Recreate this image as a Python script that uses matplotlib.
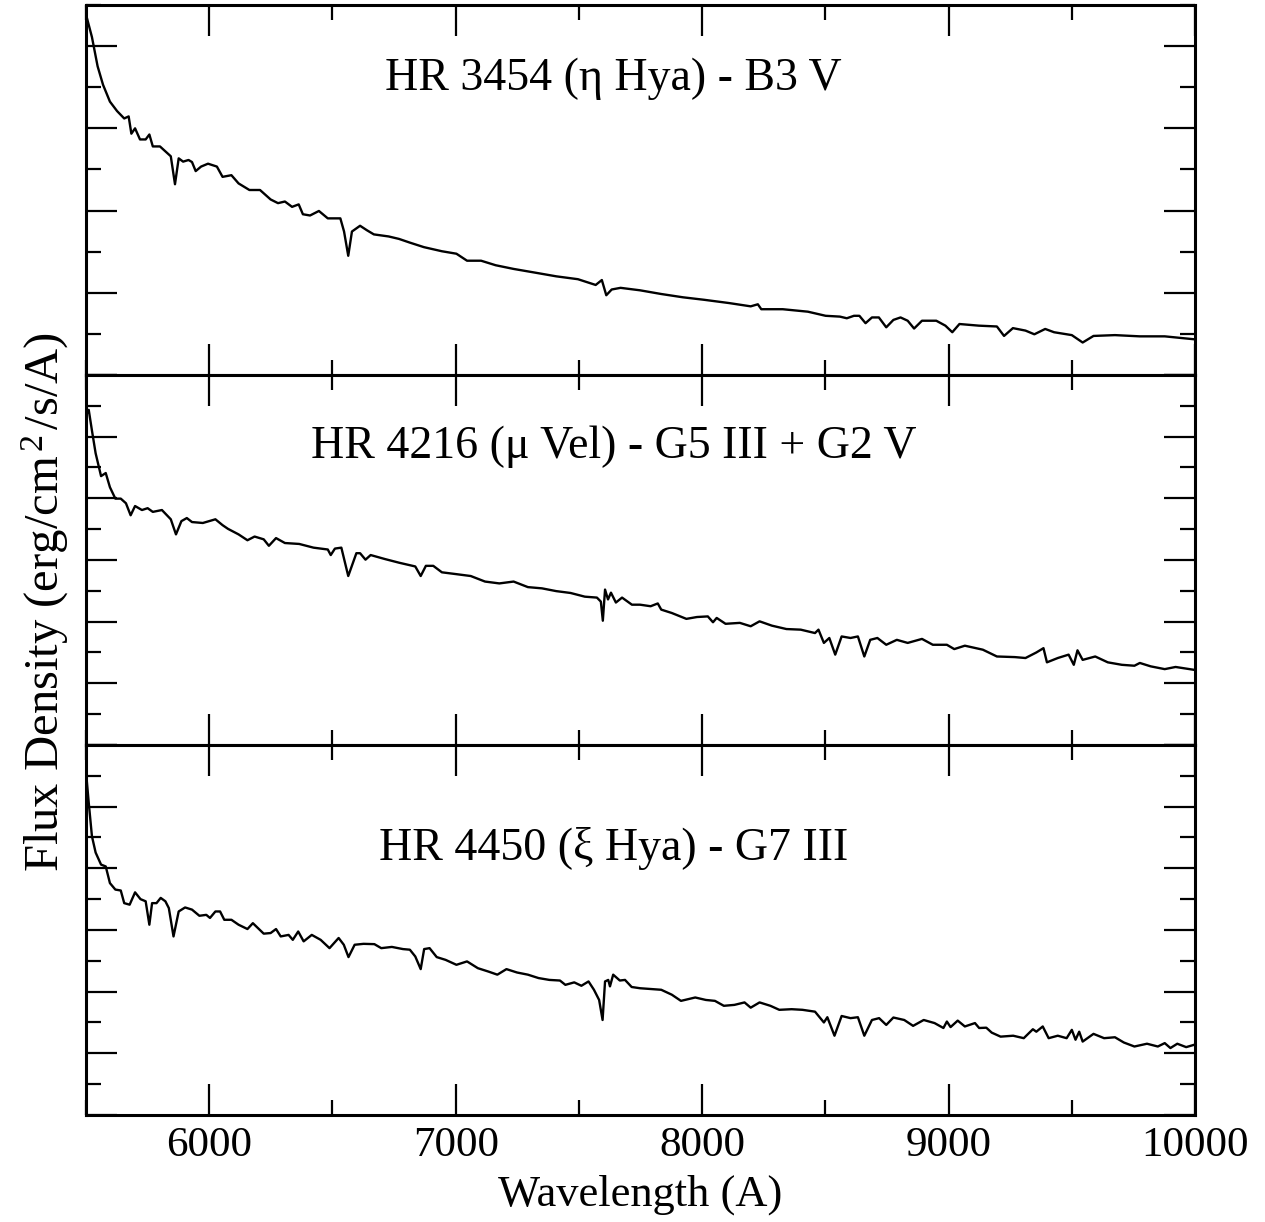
import matplotlib
matplotlib.use("Agg")
import matplotlib.pyplot as plt
from matplotlib.ticker import MultipleLocator, NullFormatter

plt.rcParams['font.family'] = ['Liberation Serif', 'DejaVu Serif']
plt.rcParams['mathtext.fontset'] = 'custom'
plt.rcParams['mathtext.rm'] = 'Liberation Serif'
plt.rcParams['mathtext.it'] = 'Liberation Serif:italic'

# HR 3454 (eta Hya) - B3 V
wave_top = [5503, 5524, 5547, 5569, 5597, 5626, 5655, 5673, 5684, 5699, 5719, 5742, 5757, 5771, 5800,
            5844, 5861, 5876, 5894, 5916, 5930, 5945, 5967, 5995, 6031, 6054, 6090, 6119, 6163, 6206,
            6249, 6279, 6307, 6336, 6363, 6380, 6409, 6445, 6481, 6532, 6547, 6564, 6579, 6612, 6640,
            6668, 6728, 6770, 6814, 6871, 6944, 7003, 7046, 7103, 7162, 7235, 7322, 7408, 7496, 7568,
            7593, 7611, 7633, 7669, 7748, 7834, 7922, 8007, 8109, 8197, 8226, 8240, 8327, 8429, 8501,
            8559, 8587, 8616, 8638, 8663, 8689, 8717, 8747, 8776, 8805, 8834, 8860, 8892, 8950, 8987,
            9015, 9044, 9123, 9196, 9225, 9261, 9312, 9348, 9392, 9428, 9500, 9544, 9588, 9675, 9776,
            9877, 9994]
flux_top = [8.70, 8.22, 7.51, 7.06, 6.65, 6.42, 6.24, 6.29, 5.87, 6.00, 5.73, 5.73, 5.85, 5.56, 5.56,
            5.32, 4.64, 5.27, 5.19, 5.23, 5.18, 4.96, 5.07, 5.14, 5.07, 4.82, 4.86, 4.66, 4.50, 4.50,
            4.27, 4.18, 4.22, 4.09, 4.15, 3.91, 3.88, 3.99, 3.81, 3.81, 3.49, 2.90, 3.49, 3.63, 3.52,
            3.42, 3.37, 3.31, 3.22, 3.11, 3.01, 2.95, 2.78, 2.78, 2.67, 2.58, 2.49, 2.40, 2.33, 2.19,
            2.31, 1.94, 2.08, 2.12, 2.06, 1.97, 1.89, 1.83, 1.75, 1.67, 1.72, 1.60, 1.60, 1.54, 1.44,
            1.42, 1.38, 1.44, 1.44, 1.26, 1.40, 1.40, 1.16, 1.34, 1.40, 1.32, 1.13, 1.32, 1.32, 1.20,
            1.04, 1.24, 1.20, 1.18, 0.95, 1.14, 1.08, 0.99, 1.12, 1.04, 0.97, 0.79, 0.95, 0.97, 0.94,
            0.94, 0.87]

# HR 4216 (mu Vel) - G5 III + G2 V
wave_mid = [5503, 5511, 5524, 5539, 5561, 5580, 5597, 5619, 5641, 5662, 5681, 5699, 5727, 5750, 5771,
            5808, 5844, 5865, 5887, 5909, 5930, 5974, 6025, 6054, 6076, 6119, 6155, 6184, 6221, 6242,
            6271, 6307, 6365, 6423, 6481, 6493, 6510, 6536, 6564, 6597, 6612, 6634, 6655, 6713, 6771,
            6836, 6858, 6879, 6909, 6944, 7003, 7061, 7119, 7177, 7235, 7293, 7350, 7408, 7466, 7524,
            7573, 7589, 7597, 7606, 7618, 7630, 7650, 7675, 7715, 7748, 7791, 7820, 7834, 7877, 7936,
            7979, 8023, 8044, 8059, 8095, 8153, 8197, 8233, 8283, 8342, 8400, 8458, 8472, 8494, 8516,
            8540, 8566, 8602, 8632, 8658, 8682, 8711, 8747, 8790, 8834, 8892, 8936, 8993, 9023, 9066,
            9139, 9196, 9269, 9312, 9356, 9385, 9399, 9443, 9487, 9508, 9523, 9544, 9595, 9646, 9703,
            9754, 9776, 9820, 9877, 9921, 9994]
flux_mid = [10.74, 10.87, 10.20, 9.46, 8.72, 8.82, 8.36, 7.99, 7.99, 7.84, 7.45, 7.75, 7.62, 7.68, 7.56,
            7.62, 7.32, 6.83, 7.26, 7.36, 7.23, 7.20, 7.32, 7.13, 7.01, 6.83, 6.64, 6.76, 6.67, 6.46,
            6.71, 6.55, 6.52, 6.40, 6.34, 6.16, 6.37, 6.40, 5.48, 6.22, 6.22, 6.01, 6.16, 6.03, 5.91,
            5.79, 5.48, 5.81, 5.81, 5.60, 5.54, 5.48, 5.30, 5.24, 5.30, 5.12, 5.08, 4.99, 4.93, 4.81,
            4.78, 4.65, 4.03, 5.04, 4.72, 4.94, 4.62, 4.78, 4.55, 4.55, 4.50, 4.59, 4.39, 4.28, 4.09,
            4.15, 4.17, 3.98, 4.12, 3.93, 3.96, 3.85, 4.01, 3.87, 3.76, 3.74, 3.63, 3.74, 3.31, 3.47,
            2.93, 3.52, 3.47, 3.52, 2.87, 3.41, 3.47, 3.25, 3.41, 3.31, 3.44, 3.25, 3.25, 3.11, 3.22,
            3.09, 2.87, 2.85, 2.82, 3.00, 3.14, 2.68, 2.82, 2.93, 2.60, 3.07, 2.76, 2.87, 2.68, 2.60,
            2.57, 2.66, 2.55, 2.46, 2.53, 2.44]

# HR 4450 (xi Hya) - G7 III
wave_bot = [5502, 5511, 5524, 5539, 5561, 5580, 5597, 5619, 5641, 5655, 5677, 5699, 5721, 5742, 5757,
            5768, 5786, 5803, 5822, 5836, 5855, 5876, 5902, 5930, 5960, 5988, 6003, 6025, 6044, 6061,
            6090, 6119, 6155, 6177, 6221, 6249, 6271, 6290, 6322, 6339, 6361, 6383, 6416, 6452, 6488,
            6525, 6546, 6565, 6590, 6626, 6670, 6698, 6741, 6786, 6814, 6836, 6858, 6872, 6894, 6923,
            6959, 7003, 7046, 7090, 7133, 7169, 7206, 7249, 7293, 7336, 7380, 7423, 7445, 7481, 7510,
            7539, 7561, 7582, 7596, 7606, 7619, 7626, 7639, 7666, 7687, 7714, 7748, 7834, 7877, 7914,
            7972, 8015, 8052, 8088, 8131, 8172, 8197, 8233, 8277, 8313, 8363, 8407, 8458, 8494, 8508,
            8537, 8566, 8602, 8632, 8658, 8689, 8718, 8747, 8776, 8820, 8856, 8899, 8943, 8979, 8993,
            9008, 9037, 9066, 9107, 9124, 9153, 9175, 9211, 9262, 9305, 9342, 9356, 9382, 9406, 9443,
            9479, 9500, 9515, 9530, 9544, 9588, 9631, 9675, 9711, 9754, 9805, 9849, 9877, 9900, 9928,
            9964, 9994]
flux_bot = [10.94, 10.13, 9.04, 8.51, 8.12, 8.06, 7.52, 7.31, 7.28, 6.87, 6.82, 7.22, 7.00, 6.93, 6.17,
            6.87, 6.87, 7.04, 6.93, 6.71, 5.79, 6.60, 6.73, 6.66, 6.46, 6.49, 6.39, 6.60, 6.60, 6.33,
            6.33, 6.17, 6.03, 6.22, 5.88, 5.90, 6.03, 5.79, 5.84, 5.68, 5.95, 5.63, 5.84, 5.68, 5.41,
            5.74, 5.52, 5.12, 5.52, 5.55, 5.54, 5.41, 5.45, 5.38, 5.36, 5.14, 4.73, 5.38, 5.41, 5.12,
            5.03, 4.87, 4.98, 4.76, 4.65, 4.55, 4.73, 4.62, 4.55, 4.44, 4.38, 4.36, 4.22, 4.30, 4.19,
            4.33, 4.06, 3.73, 3.08, 4.33, 4.38, 4.17, 4.55, 4.36, 4.38, 4.15, 4.11, 4.06, 3.90, 3.70,
            3.81, 3.73, 3.70, 3.54, 3.57, 3.65, 3.48, 3.65, 3.54, 3.41, 3.43, 3.41, 3.35, 3.00, 3.17,
            2.57, 3.21, 3.14, 3.17, 2.57, 3.08, 3.14, 2.92, 3.16, 3.08, 2.89, 3.08, 2.98, 2.82, 3.03,
            2.85, 3.06, 2.87, 2.98, 2.82, 2.83, 2.67, 2.54, 2.57, 2.49, 2.78, 2.70, 2.87, 2.49, 2.57,
            2.49, 2.76, 2.44, 2.70, 2.38, 2.63, 2.49, 2.52, 2.35, 2.22, 2.31, 2.22, 2.33, 2.17, 2.31,
            2.20, 2.27]

labels = ['HR 3454 (η Hya) - B3 V', 'HR 4216 (μ Vel) - G5 III + G2 V', 'HR 4450 (ξ Hya) - G7 III']
ytops = [9, 12, 12]
label_y = [0.80, 0.805, 0.72]

fig = plt.figure(figsize=(12.65, 12.22), dpi=100)
gs = fig.add_gridspec(3, 1, left=0.068, right=0.9447, bottom=0.0876, top=0.9959, hspace=0)
axes = [fig.add_subplot(gs[i]) for i in range(3)]

data = [(wave_top, flux_top), (wave_mid, flux_mid), (wave_bot, flux_bot)]
for i, ax in enumerate(axes):
    w, f = data[i]
    ax.plot(w, f, color='black', lw=1.7)
    ax.set_xlim(5500, 10000)
    ax.set_ylim(0, ytops[i])
    ax.xaxis.set_major_locator(MultipleLocator(1000))
    ax.xaxis.set_minor_locator(MultipleLocator(500))
    ax.yaxis.set_major_locator(MultipleLocator(2))
    ax.yaxis.set_minor_locator(MultipleLocator(1))
    ax.tick_params(which='both', direction='in', top=True, right=True, width=1.6)
    ax.tick_params(which='major', length=22)
    ax.tick_params(which='minor', length=11)
    ax.tick_params(axis='x', labelsize=31, pad=8)
    ax.yaxis.set_major_formatter(NullFormatter())
    if i < 2:
        ax.xaxis.set_major_formatter(NullFormatter())
    for s in ax.spines.values():
        s.set_linewidth(2.2)
    ax.text(7640, label_y[i] * ytops[i], labels[i], fontsize=33, ha='center', va='center')

fig.text(0.5064, 0.006, 'Wavelength (A)', fontsize=32, ha='center', va='bottom')
fig.text(0.036, 0.507, 'Flux Density (erg/cm$^{\\,2\\,}$/s/A)', fontsize=35, rotation=90,
         ha='center', va='center')

fig.savefig('out.png', dpi=100)
